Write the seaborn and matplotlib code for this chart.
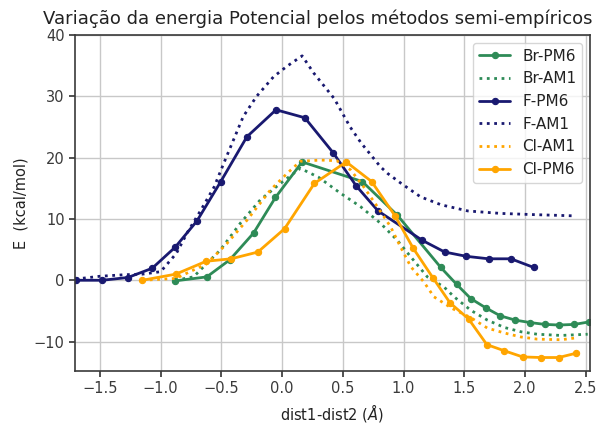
import matplotlib
matplotlib.use("Agg")
import matplotlib.pyplot as plt
import seaborn as sns
import pandas as pd

# ---- data ----
br_pm6_x = [-0.88, -0.62, -0.43, -0.235, -0.055, 0.165, 0.66, 0.949, 1.306, 1.436,
            1.554, 1.677, 1.796, 1.92, 2.043, 2.164, 2.282, 2.406, 2.525]
br_pm6_y = [-0.1, 0.55, 3.35, 7.7, 13.5, 19.3, 16.1, 10.6, 2.1, -0.65,
            -3.0, -4.5, -5.8, -6.5, -6.9, -7.2, -7.3, -7.2, -6.8]

br_am1_x = [-0.88, -0.73, -0.51, -0.344, -0.18, -0.014, 0.15, 0.30, 0.48, 0.646,
            0.81, 0.949, 1.06, 1.196, 1.333, 1.416, 1.554, 1.69, 1.83, 1.966,
            2.10, 2.296, 2.516]
br_am1_y = [0.0, 0.55, 4.9, 9.3, 13.1, 15.8, 18.25, 16.8, 14.2, 12.0,
            9.3, 6.5, 3.8, 0.55, -1.1, -2.7, -4.9, -6.5, -7.7, -8.4,
            -8.8, -9.0, -8.8]

f_pm6_x = [-1.70, -1.48, -1.27, -1.07, -0.88, -0.70, -0.505, -0.29, -0.05, 0.187,
           0.42, 0.61, 0.79, 1.155, 1.339, 1.518, 1.70, 1.884, 2.07]
f_pm6_y = [0.0, 0.0, 0.45, 1.95, 5.4, 9.7, 16.1, 23.4, 27.8, 26.5,
           20.8, 15.4, 11.3, 6.5, 4.6, 3.9, 3.5, 3.5, 2.1]

f_am1_x = [-1.70, -1.50, -1.30, -1.15, -1.00, -0.87, -0.78, -0.67, -0.56, -0.48,
           -0.40, -0.32, -0.21, -0.07, 0.04, 0.165, 0.26, 0.43, 0.56, 0.65,
           0.81, 0.87, 0.98, 1.06, 1.14, 1.31, 1.53, 1.80, 2.08, 2.41]
f_am1_y = [0.2, 0.65, 0.9, 1.0, 1.4, 4.4, 7.8, 11.4, 15.2, 19.1,
           22.9, 26.7, 30.0, 33.2, 34.9, 36.6, 33.8, 29.6, 25.0, 22.4,
           18.5, 17.4, 15.8, 14.7, 13.6, 12.3, 11.3, 10.9, 10.7, 10.5]

cl_am1_x = [-1.15, -0.875, -0.62, -0.454, -0.289, -0.097, 0.04, 0.15, 0.316, 0.45,
            0.564, 0.673, 0.784, 0.894, 0.976, 1.06, 1.168, 1.25, 1.40, 1.554,
            1.69, 1.83, 1.966, 2.10, 2.296, 2.42]
cl_am1_y = [0.0, 0.3, 2.7, 6.0, 9.8, 14.7, 17.4, 19.4, 19.6, 19.5,
            18.0, 15.2, 12.0, 8.7, 5.4, 2.2, -0.3, -2.7, -4.6, -6.1,
            -7.8, -8.6, -9.25, -9.6, -9.7, -9.4]

cl_pm6_x = [-1.15, -0.875, -0.625, -0.42, -0.2, 0.02, 0.266, 0.528, 0.737, 0.93,
            1.08, 1.24, 1.383, 1.535, 1.686, 1.83, 1.98, 2.13, 2.277, 2.42]
cl_pm6_y = [0.0, 1.0, 3.1, 3.5, 4.6, 8.4, 15.8, 19.3, 16.1, 10.5,
            5.2, 0.45, -3.7, -6.3, -10.5, -11.5, -12.5, -12.6, -12.6, -11.9]

title = "Variação da energia Potencial pelos métodos semi-empíricos"
xlabel = "dist1-dist2 ($\\AA$)"
ylabel = "E  (kcal/mol)"

sns.set_theme(style="whitegrid", rc={
    "axes.edgecolor": "#3a3a3a",
    "axes.linewidth": 1.2,
    "grid.color": "#c8c8c8",
    "grid.linewidth": 1.0,
    "xtick.bottom": True,
    "ytick.left": True,
    "xtick.color": "#3a3a3a",
    "ytick.color": "#3a3a3a",
    "xtick.major.size": 4,
    "ytick.major.size": 4,
    "axes.labelcolor": "#222222",
    "text.color": "#222222",
})
plt.rcParams["font.family"] = ["DejaVu Sans"]

fig = plt.figure(figsize=(6.16, 4.23), dpi=100)
ax = fig.add_axes([0.1218, 0.1229, 0.836, 0.7944])

series = [
    ("Br-PM6", br_pm6_x, br_pm6_y, "seagreen", "-", "o"),
    ("Br-AM1", br_am1_x, br_am1_y, "seagreen", ":", None),
    ("F-PM6", f_pm6_x, f_pm6_y, "midnightblue", "-", "o"),
    ("F-AM1", f_am1_x, f_am1_y, "midnightblue", ":", None),
    ("Cl-AM1", cl_am1_x, cl_am1_y, "orange", ":", None),
    ("Cl-PM6", cl_pm6_x, cl_pm6_y, "orange", "-", "o"),
]

for name, xs, ys, col, ls, mk in series:
    df = pd.DataFrame({"x": xs, "y": ys})
    kw = dict(marker=mk, markersize=4.5, markeredgecolor=col,
              markerfacecolor=col, markeredgewidth=0.8) if mk else {}
    sns.lineplot(data=df, x="x", y="y", ax=ax, color=col, linestyle=ls,
                 linewidth=2, sort=False, estimator=None, label=name, **kw)

ax.set_xlim(-1.705, 2.535)
ax.set_ylim(-14.8, 40)
ax.set_xticks([-1.5, -1.0, -0.5, 0.0, 0.5, 1.0, 1.5, 2.0, 2.5])
ax.set_yticks([-10, 0, 10, 20, 30, 40])
ax.tick_params(labelsize=10.5)
for s in ax.spines.values():
    s.set_visible(True)
ax.set_title(title, fontsize=13, pad=8, x=0.471)
ax.set_xlabel(xlabel, fontsize=10.5)
ax.set_ylabel(ylabel, fontsize=10.5)
leg = ax.legend(loc="upper right", fontsize=11, frameon=True)
leg.get_frame().set_edgecolor("#cccccc")

fig.savefig("out.png", dpi=100)
